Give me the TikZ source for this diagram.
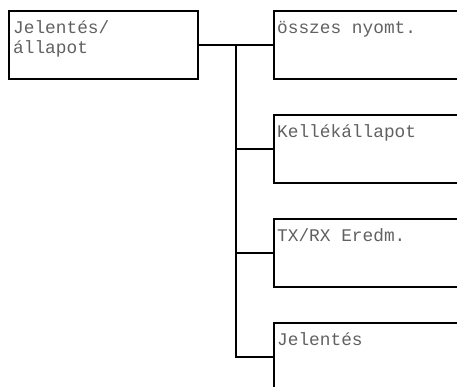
\documentclass[tikz,border=0pt]{standalone}
\usepackage{fontspec}
\setmainfont{Liberation Mono}
\begin{document}
\begin{tikzpicture}[x=1pt,y=-1pt,
  box/.style={draw=black,line width=2pt,rectangle,inner sep=0pt,anchor=north west,minimum width=#1,minimum height=68pt},
  box/.default=189pt,
  lbl/.style={anchor=base west,inner sep=0pt,text=black!62,font=\fontsize{17.8}{19}\selectfont},
  conn/.style={draw=black,line width=2pt}]
\clip (0,0) rectangle (457,386);
\node[box] (main) at (8,10) {};
\node[box=220pt] (b1) at (272.5,10) {};
\node[box=220pt] (b2) at (272.5,114) {};
\node[box=220pt] (b3) at (272.5,218) {};
\node[box=220pt] (b4) at (272.5,322) {};
\node[lbl] (tmaina) at (13,33.5) {Jelentés/};
\node[lbl] (tmainb) at (13,53) {állapot};
\node[lbl] (t1) at (277,33.5) {összes nyomt.};
\node[lbl] (t2) at (277,137.5) {Kellékállapot};
\node[lbl] (t3) at (277,241.5) {TX/RX Eredm.};
\node[lbl] (t4) at (277,345.5) {Jelentés};
\coordinate (j) at (235.5,44);
\draw[conn] (main.east) -- (b1.west);
\draw[conn] (j) |- (b2.west);
\draw[conn] (j) |- (b3.west);
\draw[conn] (j) |- (b4.west);
\end{tikzpicture}
\end{document}
